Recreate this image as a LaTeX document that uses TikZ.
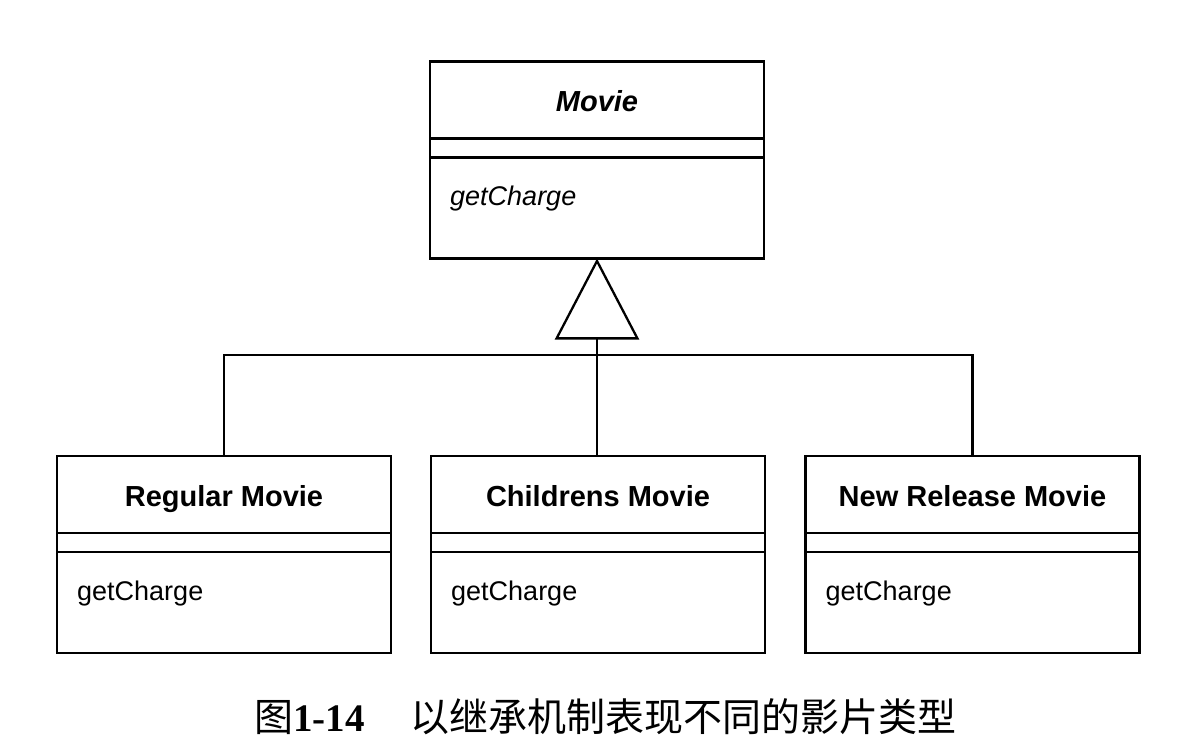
\documentclass[tikz,border=0pt]{standalone}
\usepackage{fontspec}
\setmainfont{Liberation Sans}
\newfontfamily\cjk{Noto Sans CJK SC}
\newfontfamily\capnum{Liberation Serif}
\usetikzlibrary{positioning,arrows.meta,calc}
\newcommand\DrawClassBox[5][]{%
	% #1 font shape of the texts, #2 name, #3 centre, #4 title, #5 operation
	\node[class box] (#2) at (#3) {};
	\draw[class line] ([yshift=-77pt]#2.north west) -- ([yshift=-77pt]#2.north east);
	\draw[class line] ([yshift=-96pt]#2.north west) -- ([yshift=-96pt]#2.north east);
	\node[class title] (#2-title) at ([yshift=-50pt]#2.north) {#1#4};
	\node[class op] (#2-op) at ([xshift=20pt,yshift=-144pt]#2.north west) {#1#5};
}
\tikzset{%
	>=latex,
	class box/.style={draw,line width=2.3pt,rectangle,minimum width=334pt,
		minimum height=197pt,inner sep=0pt,outer sep=0pt},%
	class line/.style={line width=2.3pt},%
	class title/.style={anchor=base,inner sep=0pt,
		font=\fontsize{29}{34}\selectfont\bfseries},%
	class op/.style={anchor=base west,inner sep=0pt,
		font=\fontsize{27}{32}\selectfont},%
	link/.style={line width=2.3pt},%
	inherit/.style={link,-{Triangle[open,length=81pt,width=84pt]}}%
}
\begin{document}
\begin{tikzpicture}[x=1pt,y=-1pt]
	%% size of the scanned page
	\useasboundingbox (0,0) rectangle (1186,754);
	\def\busY{355} % height of the inheritance bus
	
	%% classes
	\DrawClassBox[\itshape]{movie}{597,160}{Movie}{getCharge}
	\DrawClassBox{regular}{224,554.5}{Regular Movie}{getCharge}
	\DrawClassBox{childrens}{598,554.5}{Childrens Movie}{getCharge}
	\DrawClassBox{newrelease}{972.5,554.5}{New Release Movie}{getCharge}
	
	%% inheritance
	\coordinate (bus) at (597,\busY);
	\draw[link] (regular.north) |- (bus) -| (newrelease.north);
	\draw[inherit] ([xshift=-1pt]childrens.north) -- (movie.south);
	
	%% caption
	\node[anchor=base west,inner sep=0pt,font=\fontsize{39}{45}\selectfont]
	(caption) at (254,731) {\cjk 图\capnum\bfseries 1-14\hspace{46pt}\cjk\mdseries 以继承机制表现不同的影片类型};
\end{tikzpicture}
\end{document}
